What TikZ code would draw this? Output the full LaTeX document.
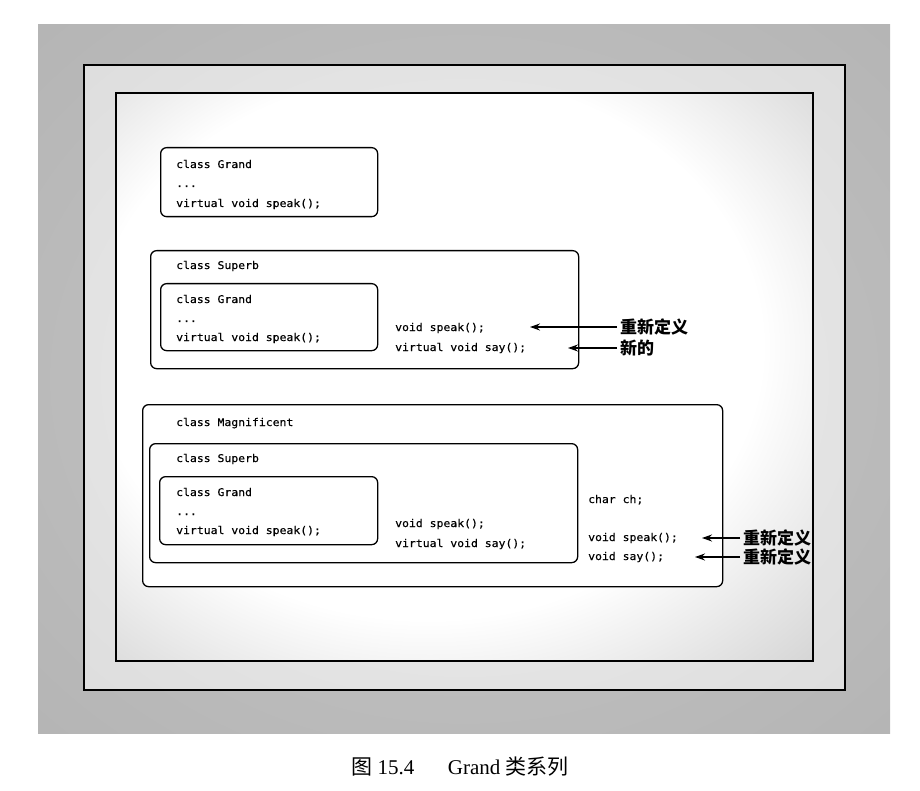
\documentclass[tikz,border=0pt]{standalone}
\usepackage{fontspec}
\setmainfont{Liberation Serif}
\newfontfamily\codefont{DejaVu Sans Mono}[FakeStretch=1.08,FakeBold=0.4]
\newfontfamily\cjk{Noto Sans CJK SC}
\usetikzlibrary{arrows.meta,positioning}

\pgfdeclareradialshading{bandglow}{\pgfpoint{0bp}{0bp}}{color(0bp)=(black!22); color(40bp)=(black!30); color(72bp)=(black!40)}
\pgfdeclareradialshading{rimglow}{\pgfpoint{0bp}{0bp}}{color(0bp)=(black!6); color(35bp)=(black!13); color(72bp)=(black!28)}
\pgfdeclareradialshading{inglow}{\pgfpoint{-4bp}{4bp}}{color(0bp)=(white); color(24bp)=(white); color(50bp)=(black!30); color(72bp)=(black!42)}

\begin{document}
\begin{tikzpicture}[x=1pt,y=-1pt,
  cls/.style={draw, line width=1.3pt, rounded corners=6pt, fill=white, anchor=north west, inner sep=0pt},
  code/.style={anchor=base west, inner sep=0pt, font=\codefont\fontsize{10.6}{12}\selectfont},
  note/.style={anchor=west, inner sep=3pt, font=\cjk\bfseries\fontsize{17}{17}\selectfont},
  redef/.style={line width=1.2pt, -{Stealth[length=10pt,width=7pt]}}]
\useasboundingbox (0,0) rectangle (920,791);

% paper and frames
\shade[shading=bandglow] (38,25) rectangle (890,733);
\shadedraw[shading=rimglow, line width=1.2pt] (84,65) rectangle (845,690);
\shadedraw[shading=inglow, line width=1.2pt] (116,93) rectangle (813,661);

% class Grand
\node[cls, minimum width=217pt, minimum height=69pt] (grandA) at (160,147) {};
\node[code] (grandAname) at (176,168) {class Grand};
\node[code] (grandAdots) at (176,187) {...};
\node[code] (grandAspeak) at (176,207) {virtual void speak();};

% class Superb
\node[cls, minimum width=428pt, minimum height=118pt] (superbB) at (150,250) {};
\node[code] (superbBname) at (176,269) {class Superb};
\node[cls, minimum width=217pt, minimum height=67pt] (grandB) at (160,283) {};
\node[code] (grandBname) at (176,303) {class Grand};
\node[code] (grandBdots) at (176,322) {...};
\node[code] (grandBspeak) at (176,341) {virtual void speak();};
\node[code] (superbBspeak) at (395,331) {void speak();};
\node[code] (superbBsay) at (395,351) {virtual void say();};

% class Magnificent
\node[cls, minimum width=580pt, minimum height=182pt] (magC) at (142,404) {};
\node[code] (magCname) at (176,426) {class Magnificent};
\node[cls, minimum width=428pt, minimum height=119pt] (superbC) at (149,443) {};
\node[code] (superbCname) at (176,462) {class Superb};
\node[cls, minimum width=218pt, minimum height=68pt] (grandC) at (159,476) {};
\node[code] (grandCname) at (176,496) {class Grand};
\node[code] (grandCdots) at (176,515) {...};
\node[code] (grandCspeak) at (176,534) {virtual void speak();};
\node[code] (superbCspeak) at (395,527) {void speak();};
\node[code] (superbCsay) at (395,547) {virtual void say();};
\node[code] (magCch) at (588,503) {char ch;};
\node[code] (magCspeak) at (588,541) {void speak();};
\node[code] (magCsay) at (588,560) {void say();};

% notes
\coordinate (tipA) at (530,327);
\coordinate (tipB) at (568,348);
\coordinate (tipC) at (702,538);
\coordinate (tipD) at (695,557);
\node[note] (noteA) at (617,327) {重新定义};
\node[note] (noteB) at (617,348) {新的};
\node[note] (noteC) at (740,538) {重新定义};
\node[note] (noteD) at (740,557) {重新定义};
\draw[redef] (noteA.west) -- (tipA);
\draw[redef] (noteB.west) -- (tipB);
\draw[redef] (noteC.west) -- (tipC);
\draw[redef] (noteD.west) -- (tipD);

\node[font=\fontsize{21}{21}\selectfont] (caption) at (460,767) {{\cjk 图} 15.4\hspace{1.6em}Grand {\cjk 类系列}};
\end{tikzpicture}
\end{document}
